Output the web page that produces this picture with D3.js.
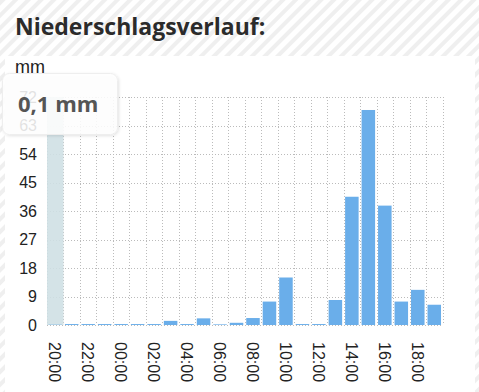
<!DOCTYPE html>
<html>
<head>
<meta charset="utf-8">
<script src="https://d3js.org/d3.v7.min.js"></script>
<style>
  body { margin: 0; }
  svg { display: block; }
</style>
</head>
<body>
<svg id="chart" width="479" height="392"></svg>
<script>
// data
const hours = ["20:00","21:00","22:00","23:00","00:00","01:00","02:00","03:00",
               "04:00","05:00","06:00","07:00","08:00","09:00","10:00","11:00",
               "12:00","13:00","14:00","15:00","16:00","17:00","18:00","19:00"];
const rain = [0.1,0.3,0.3,0.3,0.3,0.3,0.3,1.3,
              0.3,2.1,0.2,0.7,2.2,7.4,15,0.3,
              0.3,7.9,40.5,67.9,37.7,7.4,11.1,6.4];
const yTicks = [0,9,18,27,36,45,54,63,72];
const selected = "20:00";
const tooltipText = "0,1 mm";

const svg = d3.select("#chart");
const width = +svg.attr("width");
const height = +svg.attr("height");
const plot = {left: 47, right: 442.5, top: 97, bottom: 325};

// striped page background
const defs = svg.append("defs");
const pat = defs.append("pattern")
  .attr("id", "stripes")
  .attr("patternUnits", "userSpaceOnUse")
  .attr("width", 9).attr("height", 9)
  .attr("patternTransform", "rotate(45)");
pat.append("rect").attr("width", 9).attr("height", 9).attr("fill", "#ffffff");
pat.append("rect").attr("width", 4).attr("height", 9).attr("fill", "#efefef");

const shadow = defs.append("filter").attr("id", "shadow")
  .attr("x", "-20%").attr("y", "-20%").attr("width", "140%").attr("height", "140%");
shadow.append("feDropShadow").attr("dx", 1).attr("dy", 1).attr("stdDeviation", 1.5)
  .attr("flood-color", "#000").attr("flood-opacity", 0.12);

svg.append("rect").attr("width", width).attr("height", height).attr("fill", "url(#stripes)");
svg.append("rect").attr("x", 5).attr("y", 56).attr("width", 470).attr("height", height - 56)
  .attr("fill", "#fff");

svg.append("text")
  .attr("x", 15).attr("y", 35)
  .attr("font-family", "'Open Sans', sans-serif")
  .attr("font-weight", 700)
  .attr("font-size", 23)
  .attr("fill", "#2b2b2b")
  .text("Niederschlagsverlauf:");

svg.append("text")
  .attr("x", 15).attr("y", 73)
  .attr("font-family", "'Liberation Sans', Arial, sans-serif")
  .attr("font-size", 18)
  .attr("fill", "#222")
  .text("mm");

// scales
const x = d3.scaleBand().domain(hours).range([plot.left, plot.right]).padding(0);
const y = d3.scaleLinear().domain([0, 72]).range([plot.bottom, plot.top]);

// grid
const grid = svg.append("g").attr("stroke", "#bbb").attr("stroke-dasharray", "1,2");
grid.selectAll("line.h").data(yTicks).join("line").attr("class", "h")
  .attr("x1", plot.left).attr("x2", plot.right)
  .attr("y1", d => Math.round(y(d)) + 0.5).attr("y2", d => Math.round(y(d)) + 0.5);
const vlines = hours.map(h => x(h)).concat([plot.right]);
grid.selectAll("line.v").data(vlines).join("line").attr("class", "v")
  .attr("x1", d => Math.round(d) + 0.5).attr("x2", d => Math.round(d) + 0.5)
  .attr("y1", plot.top).attr("y2", plot.bottom);

// hover highlight column
svg.append("rect")
  .attr("x", x(selected)).attr("width", x.bandwidth())
  .attr("y", plot.top).attr("height", plot.bottom - plot.top)
  .attr("fill", "#cfe0e4").attr("opacity", 0.9);

// bars
const inset = x.bandwidth() * 0.09;
svg.append("g").selectAll("rect").data(hours).join("rect")
  .attr("x", (d) => x(d) + inset)
  .attr("width", x.bandwidth() - 2 * inset)
  .attr("y", (d, i) => y(rain[i]))
  .attr("height", (d, i) => y(0) - y(rain[i]))
  .attr("fill", "#6aaeea");

// y axis labels
const yAxis = d3.axisLeft(y).tickValues(yTicks).tickSize(0).tickPadding(10);
const yg = svg.append("g").attr("transform", "translate(" + plot.left + ",0)").call(yAxis);
yg.select(".domain").remove();
yg.selectAll("text")
  .attr("font-family", "'Liberation Sans', Arial, sans-serif")
  .attr("font-size", 16).attr("fill", "#222");

// x axis labels, every second hour, rotated
const xAxis = d3.axisBottom(x).tickValues(hours.filter((h, i) => i % 2 === 0)).tickSize(0);
const xg = svg.append("g").attr("transform", "translate(0," + plot.bottom + ")").call(xAxis);
xg.select(".domain").remove();
xg.selectAll("text")
  .attr("font-family", "'Liberation Sans', Arial, sans-serif")
  .attr("font-size", 16).attr("fill", "#222")
  .attr("text-anchor", "start")
  .attr("dy", null)
  .attr("transform", "translate(-6,17) rotate(90)")
  .attr("x", 0).attr("y", 0);

// tooltip
const tip = svg.append("g");
tip.append("rect")
  .attr("x", 2.5).attr("y", 73.5).attr("width", 115).attr("height", 61).attr("rx", 7)
  .attr("fill", "rgba(255,255,255,0.86)").attr("stroke", "#eee")
  .attr("filter", "url(#shadow)");
tip.append("text")
  .attr("x", 18).attr("y", 112)
  .attr("font-family", "'Open Sans', sans-serif")
  .attr("font-weight", 700).attr("font-size", 22)
  .attr("fill", "#555")
  .text(tooltipText);
</script>
</body>
</html>
